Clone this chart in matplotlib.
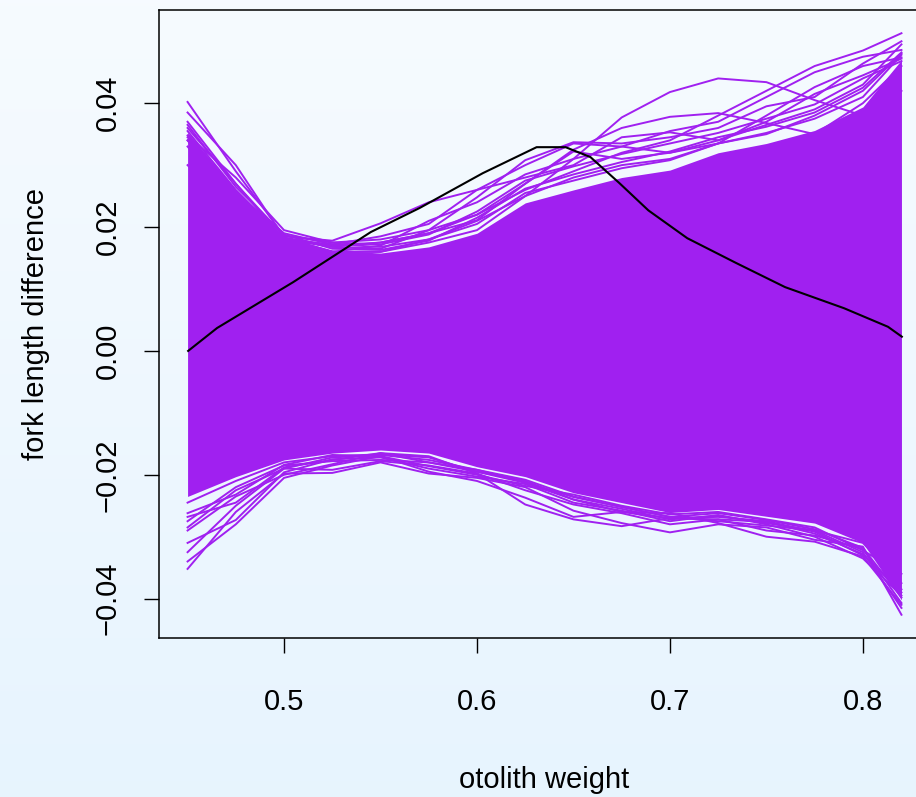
import matplotlib
matplotlib.use('Agg')
import matplotlib.pyplot as plt
import numpy as np

# common x grid for the permutation curves (otolith weight)
grid_x = [0.45, 0.475, 0.5, 0.525, 0.55, 0.575, 0.6, 0.625, 0.65,
          0.675, 0.7, 0.725, 0.75, 0.775, 0.8, 0.82]

# dense core of the purple curves (upper / lower edge)
core_upper = [0.0353, 0.026, 0.0184, 0.0163, 0.0158, 0.0168, 0.019, 0.0239, 0.026,
              0.028, 0.0292, 0.032, 0.0335, 0.0356, 0.0394, 0.047]
core_lower = [-0.0235, -0.0203, -0.0176, -0.0165, -0.016, -0.0165, -0.0187, -0.0203, -0.0229,
              -0.0245, -0.0261, -0.0256, -0.0267, -0.0278, -0.031, -0.0402]

# individual curves that stick out of the core
upper_curves = [
    [0.030, 0.022, 0.0175, 0.016, 0.016, 0.018, 0.021, 0.025, 0.031, 0.0377, 0.0418, 0.044, 0.0434, 0.0405, 0.038, 0.042],
    [0.034, 0.025, 0.0183, 0.017, 0.0175, 0.019, 0.022, 0.027, 0.0325, 0.036, 0.0378, 0.0384, 0.0368, 0.035, 0.040, 0.046],
    [0.0402, 0.029, 0.0186, 0.0175, 0.018, 0.0195, 0.022, 0.026, 0.029, 0.032, 0.034, 0.038, 0.042, 0.046, 0.0485, 0.0513],
    [0.0385, 0.030, 0.0183, 0.016, 0.017, 0.021, 0.024, 0.0285, 0.031, 0.033, 0.0355, 0.037, 0.041, 0.045, 0.0475, 0.0486],
    [0.037, 0.027, 0.018, 0.0172, 0.0185, 0.0205, 0.026, 0.030, 0.0335, 0.033, 0.032, 0.0335, 0.038, 0.0426, 0.046, 0.0474],
    [0.0355, 0.026, 0.0182, 0.0168, 0.0165, 0.0195, 0.0248, 0.0308, 0.0337, 0.0335, 0.0345, 0.036, 0.0395, 0.041, 0.0464, 0.050],
    [0.036, 0.027, 0.0185, 0.0178, 0.0206, 0.024, 0.026, 0.028, 0.030, 0.0345, 0.0353, 0.034, 0.037, 0.0415, 0.0445, 0.0472],
    [0.034, 0.025, 0.018, 0.0168, 0.0175, 0.019, 0.0211, 0.027, 0.0322, 0.031, 0.032, 0.034, 0.0365, 0.039, 0.043, 0.0495],
    [0.033, 0.024, 0.0178, 0.016, 0.016, 0.0175, 0.0195, 0.025, 0.028, 0.030, 0.031, 0.0335, 0.035, 0.038, 0.042, 0.048],
    [0.0345, 0.0255, 0.019, 0.0172, 0.0168, 0.018, 0.0205, 0.0255, 0.0275, 0.0295, 0.0308, 0.0335, 0.0352, 0.0375, 0.041, 0.0478],
    [0.0365, 0.0265, 0.0188, 0.0165, 0.0163, 0.0178, 0.0215, 0.0262, 0.0285, 0.0305, 0.0322, 0.0345, 0.0362, 0.0385, 0.0425, 0.0482],
    [0.0348, 0.028, 0.0195, 0.0175, 0.0172, 0.0188, 0.0225, 0.0275, 0.0298, 0.0318, 0.0335, 0.0352, 0.0375, 0.0398, 0.044, 0.0468],
]
lower_curves = [
    [-0.0352, -0.026, -0.0198, -0.0197, -0.018, -0.0198, -0.0205, -0.022, -0.0258, -0.0278, -0.0293, -0.028, -0.0285, -0.0305, -0.0316, -0.0426],
    [-0.034, -0.028, -0.0205, -0.0185, -0.017, -0.0195, -0.021, -0.0237, -0.0268, -0.026, -0.0262, -0.0278, -0.030, -0.0308, -0.0332, -0.041],
    [-0.0325, -0.025, -0.019, -0.0192, -0.0178, -0.0185, -0.0198, -0.0248, -0.0272, -0.0283, -0.027, -0.0272, -0.029, -0.0298, -0.032, -0.0407],
    [-0.031, -0.0273, -0.0196, -0.0175, -0.0172, -0.019, -0.0203, -0.0215, -0.0245, -0.0258, -0.0275, -0.0265, -0.028, -0.030, -0.0335, -0.0395],
    [-0.029, -0.0235, -0.020, -0.0183, -0.0165, -0.018, -0.0195, -0.021, -0.024, -0.026, -0.027, -0.0268, -0.0275, -0.0292, -0.033, -0.0385],
    [-0.0275, -0.022, -0.0185, -0.0178, -0.0176, -0.018, -0.0192, -0.0212, -0.0236, -0.0252, -0.0268, -0.0275, -0.0282, -0.029, -0.031, -0.0375],
    [-0.0262, -0.0232, -0.0184, -0.0168, -0.017, -0.0186, -0.020, -0.0218, -0.0232, -0.025, -0.0264, -0.026, -0.0272, -0.0285, -0.0322, -0.036],
    [-0.0245, -0.021, -0.018, -0.017, -0.0167, -0.0172, -0.0195, -0.0213, -0.024, -0.0255, -0.0272, -0.0266, -0.0278, -0.029, -0.0325, -0.0415],
    [-0.0285, -0.0225, -0.019, -0.0172, -0.0168, -0.0176, -0.0192, -0.0208, -0.0235, -0.0252, -0.0268, -0.0262, -0.0273, -0.0288, -0.0318, -0.0398],
    [-0.0268, -0.0245, -0.0188, -0.0176, -0.0165, -0.017, -0.0198, -0.0225, -0.0248, -0.0262, -0.028, -0.0272, -0.0276, -0.0295, -0.0328, -0.039],
]

# observed difference curve (black)
obs_x = [0.4503, 0.4653, 0.5047, 0.545, 0.5704, 0.603, 0.6309, 0.6459, 0.6588,
         0.6738, 0.6888, 0.709, 0.7343, 0.7597, 0.7902, 0.813, 0.8202]
obs_y = [0.0, 0.0037, 0.0111, 0.0192, 0.0231, 0.0287, 0.0329, 0.0329, 0.0313,
         0.0271, 0.0227, 0.0182, 0.0142, 0.0103, 0.0069, 0.0039, 0.0023]

xticks = [0.5, 0.6, 0.7, 0.8]
yticks = [-0.04, -0.02, 0.0, 0.02, 0.04]

purple = '#A020F0'
plt.rcParams['font.family'] = ['Liberation Sans', 'DejaVu Sans']

fig = plt.figure(figsize=(9.16, 7.97), dpi=100)

# light blue vertical gradient behind everything
bg = fig.add_axes([0, 0, 1, 1], zorder=-1)
top_c = np.array([0.965, 0.984, 1.0])
bot_c = np.array([0.906, 0.957, 0.996])
t = np.linspace(0, 1, 256)[:, None]
grad = top_c * (1 - t) + bot_c * t
bg.imshow(grad[:, None, :], aspect='auto', extent=[0, 1, 0, 1])
bg.axis('off')

ax = fig.add_axes([0.1736, 0.1995, 0.8417, 0.788])
ax.set_facecolor('none')

ax.fill_between(grid_x, core_lower, core_upper, color=purple, lw=0)
for c in upper_curves + lower_curves:
    ax.plot(grid_x, c, color=purple, lw=1.4)
ax.plot(obs_x, obs_y, color='black', lw=1.5)

# R-style 4% padding around the data range
all_y = np.concatenate([np.ravel(upper_curves), np.ravel(lower_curves), core_upper, core_lower, obs_y])
xr = grid_x[-1] - grid_x[0]
yr = all_y.max() - all_y.min()
ax.set_xlim(grid_x[0] - 0.04 * xr, grid_x[-1] + 0.04 * xr)
ax.set_ylim(all_y.min() - 0.04 * yr, all_y.max() + 0.04 * yr)

ax.set_xticks(xticks)
ax.set_xticklabels(['0.5', '0.6', '0.7', '0.8'])
ax.set_yticks(yticks)
ax.set_yticklabels(['\u22120.04', '\u22120.02', '0.00', '0.02', '0.04'])
ax.tick_params(direction='out', length=11, width=1, labelsize=21, color='black')
ax.tick_params(axis='x', pad=25)
ax.tick_params(axis='y', pad=16, labelrotation=90)
for lab in ax.get_yticklabels():
    lab.set_va('center')
for s in ax.spines.values():
    s.set_linewidth(1.1)

ax.set_xlabel('otolith weight', fontsize=21, labelpad=36)
ax.set_ylabel('fork length difference', fontsize=21, labelpad=31)

fig.savefig('out.png', dpi=100)
